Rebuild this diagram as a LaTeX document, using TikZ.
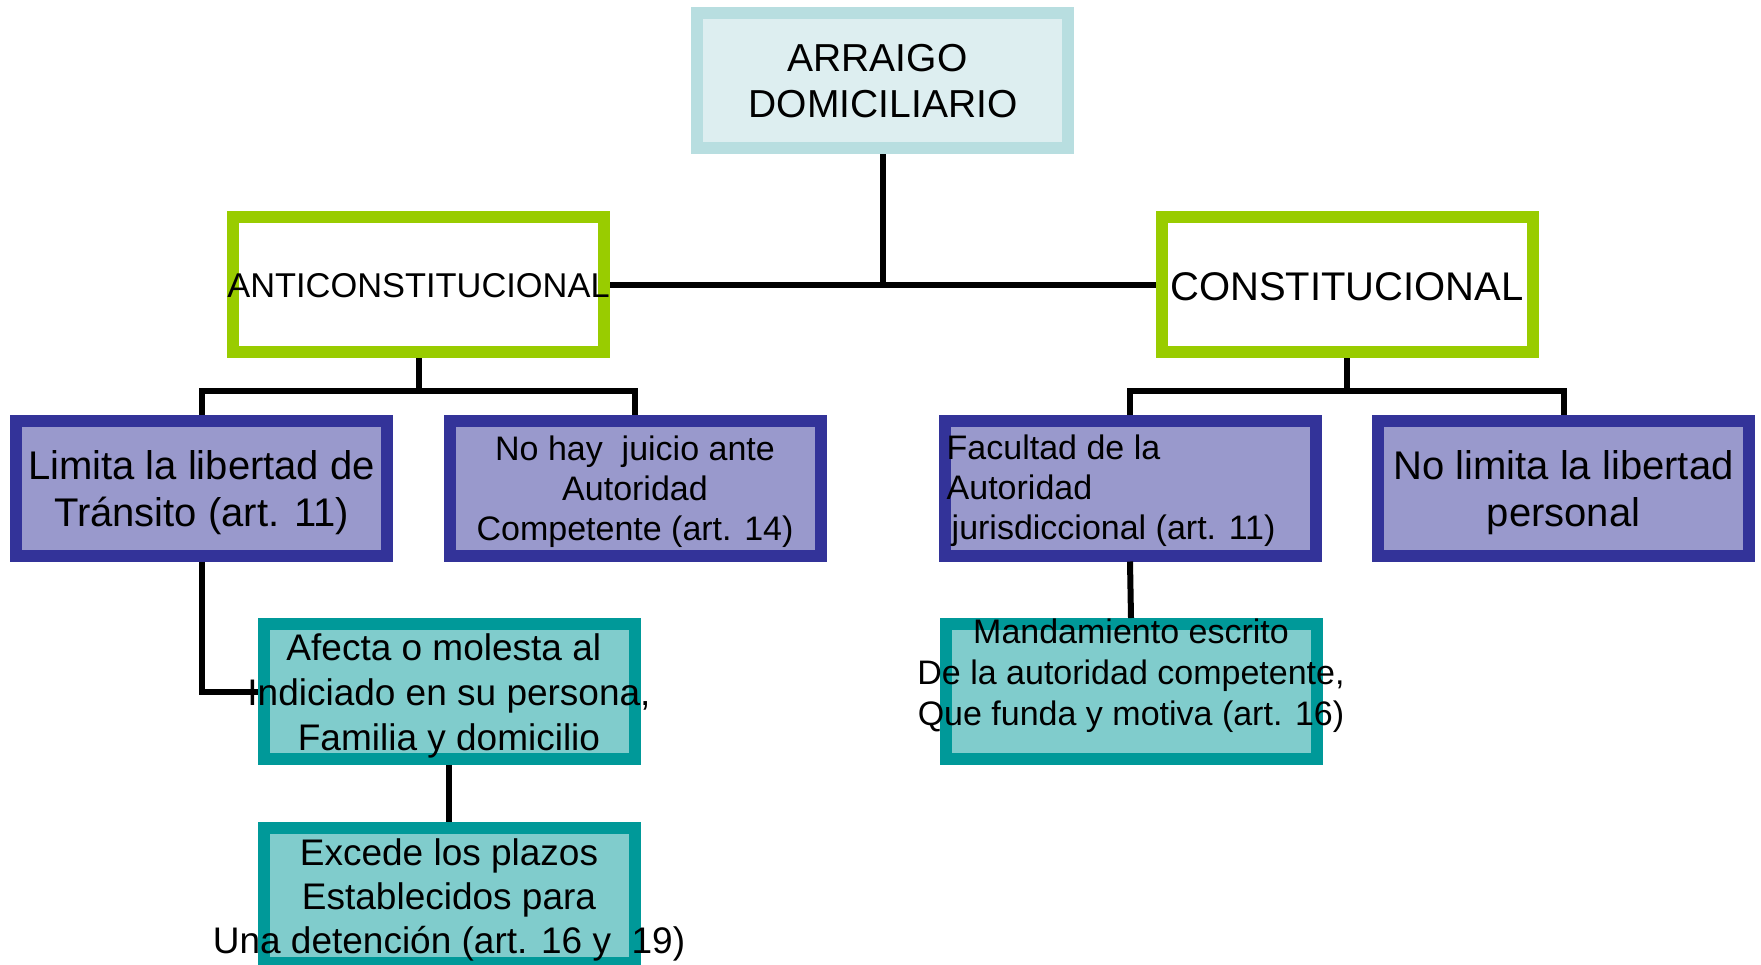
\documentclass[tikz,border=0pt]{standalone}
\usepackage{fontspec}
\setmainfont{Liberation Sans}
\definecolor{topline}{RGB}{184,222,224}
\definecolor{topfill}{RGB}{221,238,240}
\definecolor{greenline}{RGB}{153,204,0}
\definecolor{blueline}{RGB}{51,51,153}
\definecolor{bluefill}{RGB}{153,153,204}
\definecolor{tealline}{RGB}{0,153,153}
\definecolor{tealfill}{RGB}{128,204,204}
\begin{document}
\begin{tikzpicture}[x=1pt,y=-1pt,
  box/.style={rectangle, line width=12pt, minimum width=371pt, minimum height=135pt, inner sep=0pt},
  topbox/.style={box, draw=topline, fill=topfill},
  greenbox/.style={box, draw=greenline, fill=white},
  bluebox/.style={box, draw=blueline, fill=bluefill},
  tealbox/.style={box, draw=tealline, fill=tealfill},
  conn/.style={draw=black, line width=6pt},
  txt/.style={inner sep=0pt, align=center, text=black}]
\useasboundingbox (0,0) rectangle (1761,964);
\fill[white] (0,0) rectangle (1761,964);

% boxes
\node[topbox] (top) at (882.5,80.5) {};
\node[greenbox] (anti) at (418.5,284.5) {};
\node[greenbox] (const) at (1347,284.5) {};
\node[bluebox] (box1) at (201.5,488) {};
\node[bluebox] (box2) at (635,488) {};
\node[bluebox] (box3) at (1130,488) {};
\node[bluebox] (box4) at (1563.5,488) {};
\node[tealbox] (afecta) at (449,691.5) {};
\node[tealbox] (excede) at (449,895.5) {};
\node[tealbox] (mand) at (1131,691.5) {};

% connectors
\coordinate (yA) at (0,391);
\draw[conn] (top.south) -- (top.south |- anti.east);
\draw[conn] (anti.east) -- (const.west);
\draw[conn] (anti.south) -- (anti.south |- yA);
\draw[conn] (box1.north) |- (yA -| box2.north) -- (box2.north);
\draw[conn] (const.south) -- (const.south |- yA);
\draw[conn] (box3.north) |- (yA -| box4.north) -- (box4.north);
\draw[conn] (box1.south) |- (afecta.west);
\draw[conn] (afecta.south) -- (excede.north);
\draw[conn] (box3.south) -- (mand.north);

% texts
\node[txt, font=\fontsize{39}{46}\selectfont] (tTop) at (883,81) {ARRAIGO\kern0.28em\\DOMICILIARIO};
\node[txt, font=\fontsize{34.4}{40}\selectfont] (tAnti) at (418.5,285.8) {ANTICONSTITUCIONAL};
\node[txt, font=\fontsize{40}{48}\selectfont] (tConst) at (1347,286.7) {CONSTITUCIONAL};
\node[txt, font=\fontsize{40}{47}\selectfont] (t1) at (201.5,493) {Limita la libertad de\\Tránsito (art. 11)};
\node[txt, font=\fontsize{34}{40}\selectfont] (t2) at (635,491.4) {No hay~ juicio ante\\Autoridad\\Competente (art. 14)};
\node[txt, align=left, anchor=west, font=\fontsize{34}{40}\selectfont] (t3) at (946.5,490.9) {Facultad de la\\Autoridad\\\hspace*{5pt}jurisdiccional (art. 11)};
\node[txt, font=\fontsize{40}{47}\selectfont] (t4) at (1563.5,493) {No limita la libertad\\personal};
\node[txt, font=\fontsize{37}{45}\selectfont] (tA) at (449,696.1) {Afecta o molesta al\kern0.28em\\Indiciado en su persona,\\Familia y domicilio};
\node[txt, font=\fontsize{37}{44}\selectfont] (tE) at (449,899.6) {Excede los plazos\\Establecidos para\\Una detención (art. 16 y~ 19)};
\node[txt, font=\fontsize{34}{41}\selectfont] (tM) at (1131,675.4) {Mandamiento escrito\\De la autoridad competente,\\Que funda y motiva (art. 16)};
\end{tikzpicture}
\end{document}
